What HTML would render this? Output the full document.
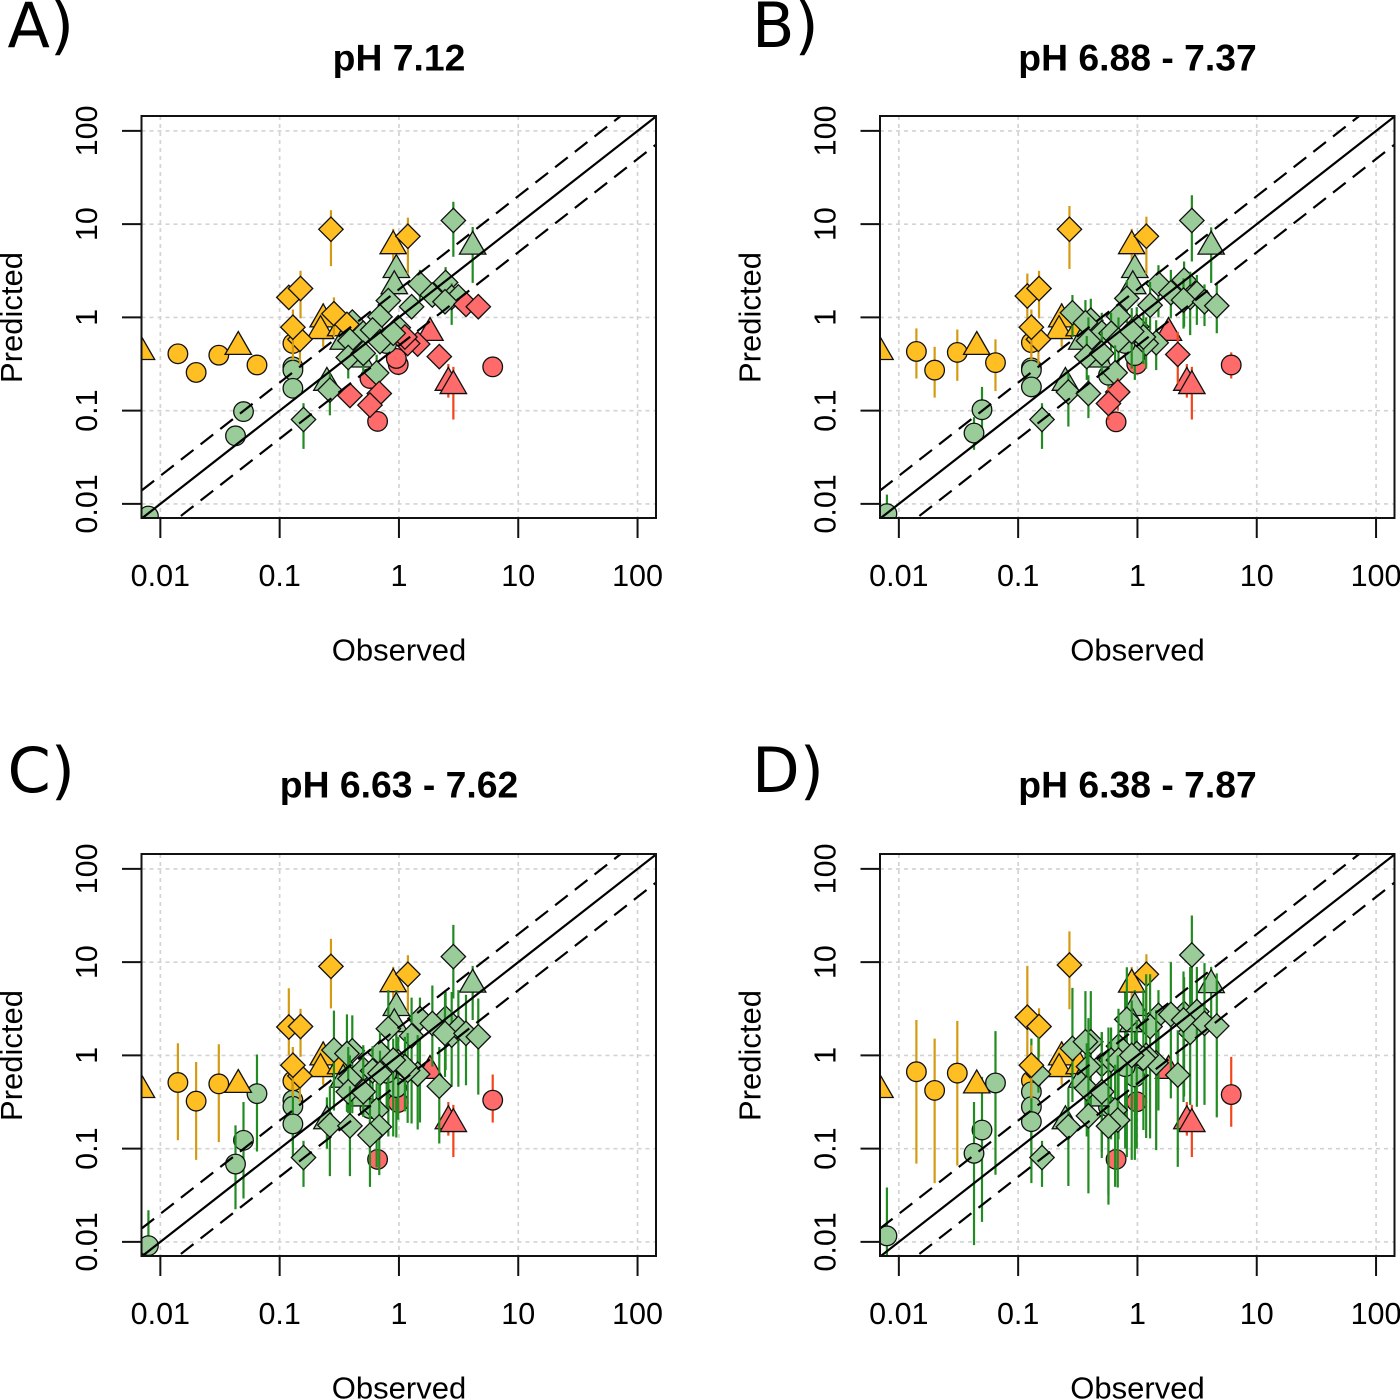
<!DOCTYPE html>
<html lang="en">
<head>
<meta charset="utf-8">
<title>Observed vs predicted at four pH ranges</title>
<style>
  html, body { margin: 0; padding: 0; background: #fff; width: 1400px; height: 1399px; overflow: hidden; }
  svg { display: block; }
  text { fill: #000; font-family: "Liberation Sans", sans-serif; }
  .tick { font-size: 30.5px; text-anchor: middle; }
  .axis-title { font-size: 31px; text-anchor: middle; }
  .plot-title { font-size: 37.3px; font-weight: bold; text-anchor: middle; }
  .panel-letter { font-size: 62px; font-family: "DejaVu Sans", sans-serif; }
</style>
</head>
<body>
<svg id="figure" xmlns="http://www.w3.org/2000/svg" width="1400" height="1399" viewBox="0 0 1400 1399"></svg>
<script>
const tickValues = [0.01, 0.1, 1, 10, 100];
const tickLabels = ["0.01", "0.1", "1", "10", "100"];
const panelLetters = ["A)", "B)", "C)", "D)"];
const panelTitles = ["pH 7.12", "pH 6.88 - 7.37", "pH 6.63 - 7.62", "pH 6.38 - 7.87"];
const markerCounts = [17, 15, 39];

const logObserved = [
  -1.853,-1.70,-1.51,-1.19,-.889,-.889,-.889,-.889,-1.303,-1.37,-2.10,.786,-.006,-.022,-.179,-.243,-.103,
  -2.158,-1.347,-.635,-.657,-.489,-.048,.618,-.022,-.039,-.604,-.467,-.327,.26,.414,.456,
  -.57,.075,-.923,-.825,-.83,-.889,-.545,-.391,-.436,.456,.176,.391,.28,.442,.498,.386,.562,.665,-.089,.106,-.159,-.006,-.299,-.221,-.159,-.411,-.425,-.299,-.187,-.579,-.80,-.411,-.165,-.243,.338,.157,.073,.05,-.048
];

const classA = ("ooooogggggg"+"rrrrrg"+"oooooogggggg"+"rrr"+"ooooooo"+"g"+"o"+"ggggggg"+"rr"+"ggggggggggggg"+"rrrrrrr"+"g").split("");
const classB = ("ooooogggggg"+"rrgrgg"+"oooooogggggg"+"rrr"+"oooooo"+"gggggggggggggggggggggggggg"+"rrr"+"gggg").split("");
const classC = ("ooogogggggg"+"rrgrgg"+"oooooogggggg"+"rrr"+"oooooo"+"ggggggggggggggggggggggggggggggggg").split("");
const classD = ("ooogogggggg"+"rrgrgg"+"oooooogggggg"+"rrr"+"oooo"+"g"+"o"+"ggggggggggggggggggggggggggggggggg").split("");

const predictedA = [
  -.39,-.59,-.405,-.51,-.28,-.53,-.565,-.76,-1.01,-1.27,-2.13,-.53,-.505,-.44,-1.115,-.655,-.28,
  -.37,-.315,-.02,-.145,-.115,.765,.76,.51,.336,-.70,-.26,-.45,-.165,-.70,-.735,
  .945,.87,.215,.31,-.235,-.105,.04,-.05,-.075,1.04,.36,.375,.24,.215,.22,.168,.14,.115,.18,.115,.007,-.11,-.17,-.135,-.26,-.25,-.43,-.385,-.595,-.78,-1.095,-.837,-.816,-.94,-.42,-.286,-.28,-.21,-.17
];
const lowerA = [
  null,null,null,null,null,null,null,null,null,null,null,null,null,null,null,null,null,
  null,null,-.315,null,null,.6,.37,.25,null,null,null,null,null,-.86,-1.095,
  .55,.47,null,-.01,-.5,-.46,-.21,null,null,.65,.185,.15,null,-.08,
  null,null,null,null,null,null,null,null,null,null,null,null,
  -.655,-.6,-.887,-1.05,-1.41,null,null,null,null,null,null,null,null
];
const upperA = [
  null,null,null,null,null,null,null,null,null,null,null,null,null,null,null,null,null,
  null,null,.15,null,null,.95,.97,.65,null,null,null,null,null,-.5,-.53,
  1.15,1.07,null,.5,-.1,.085,.215,null,null,1.24,.51,.54,null,.365,
  null,null,null,null,null,null,null,null,null,null,null,null,
  -.3,-.3,-.4,-.6,-.92,null,null,null,null,null,null,null,null
];

const predictedB = [
  -.365,-.565,-.375,-.485,-.27,-.54,-.565,-.745,-.99,-1.24,-2.105,-.51,-.50,-.41,-1.12,-.62,-.28,
  -.37,-.315,-.02,-.145,-.115,.765,.76,.51,.336,-.70,-.26,-.45,-.165,-.70,-.735,
  .945,.87,.23,.31,-.235,-.105,.05,-.03,-.057,1.04,.36,.40,.265,.215,.258,.186,.168,.125,.204,.13,.014,-.10,-.165,-.17,-.243,-.25,-.42,-.385,-.594,-.80,-1.095,-.816,-.80,-.923,-.397,-.272,-.28,-.21,-.15
];
const lowerB = [
  -.655,-.86,-.68,-.79,-.49,null,null,null,-1.28,-1.42,-2.4,-.655,null,-.67,null,-.85,null,
  null,null,-.315,null,null,.6,.37,.25,null,null,null,null,null,-.86,-1.095,
  .52,.465,-.03,-.01,-.5,-.46,-.21,-.3,-.35,.6,0,-.1,-.01,-.19,-.08,-.12,-.093,-.17,-.06,-.14,-.07,-.315,-.35,-.35,-.5,-.5,-.67,-.62,-.92,-1.17,-1.41,-1.08,-1.0,-1.1,-.71,-.565,-.55,-.5,-.55
];
const upperB = [
  -.118,-.315,-.13,-.235,-.01,null,null,null,-.745,-1.07,-1.9,-.375,null,-.21,null,-.35,null,
  null,null,.15,null,null,.95,.966,.65,null,null,null,null,null,-.5,-.53,
  1.195,1.08,.47,.5,-.1,.085,.24,.2,.186,1.31,.56,.6,.51,.49,.455,.42,.354,.365,.4,.38,.15,.11,.05,.05,0,0,-.2,-.15,-.3,-.6,-.92,-.62,-.65,-.75,-.154,-.03,0,.05,.1
];

const predictedC = [
  -.29,-.49,-.305,-.41,-.275,-.48,-.545,-.735,-.91,-1.165,-2.04,-.48,-.505,-.345,-1.115,-.57,-.19,
  -.37,-.315,-.02,-.145,-.115,.765,.76,.51,.336,-.705,-.26,-.46,-.165,-.705,-.735,
  .955,.87,.305,.31,-.22,-.105,.057,.05,.02,1.06,.394,.40,.343,.218,.29,.236,.236,.2,.286,.21,.03,-.068,-.147,-.165,-.193,-.25,-.39,-.39,-.587,-.748,-1.095,-.755,-.766,-.855,-.33,-.2,-.16,-.12,-.05
];
const lowerC = [
  -.91,-1.12,-.93,-1.03,-.55,-.85,-.95,-1.09,-1.535,-1.65,-2.4,-.72,null,-.88,null,-1.05,-.6,
  null,null,-.315,null,null,.6,.38,.2,null,-1,null,null,null,-.86,-1.09,
  .505,.47,0,-.015,-.5,-.445,-.59,-.62,-.605,.61,-.72,-.157,-.12,-.336,-.336,-.23,-.32,-.42,-.87,-.73,-.73,-.69,-.55,-.6,-.7,-.6,-.62,-.66,-1.2,-1.295,-1.41,-1.295,-1.284,-1.41,-.945,-.794,-.723,-.6,-.87
];
const upperC = [
  .13,-.07,.12,.01,.09,-.2,-.25,-.4,-.5,-.75,-1.66,-.205,null,.235,null,-.15,.1,
  null,null,.15,null,null,.95,.96,.7,null,-.45,null,null,null,-.5,-.53,
  1.25,1.075,.72,.5,-.1,.09,.48,.43,.44,1.40,.62,.68,.75,.68,.70,.66,.65,.61,.70,.62,.25,.2,.11,.1,.05,0,.09,.09,-.3,-.33,-.916,-.33,-.3,-.48,.09,.218,.24,.2,.18
];

const predictedD = [
  -.175,-.375,-.19,-.295,-.27,-.39,-.55,-.71,-.80,-1.05,-1.935,-.42,-.497,-.23,-1.115,-.55,-.12,
  -.37,-.32,-.02,-.145,-.115,.76,.755,.51,.336,-.705,-.26,-.46,-.165,-.705,-.735,
  .97,.87,.41,.31,-.2,-.105,.075,.147,.147,1.077,.43,.45,.44,.247,.47,.38,.343,.315,.386,.31,.1,.02,-.097,-.05,-.05,-.12,-.354,-.39,-.587,-.766,-1.095,-.648,-.694,-.758,-.21,-.08,0,-.03,0
];
const lowerD = [
  -1.16,-1.37,-1.18,-1.28,-.55,-.9,-1.0,-1.37,-1.785,-2.035,-2.45,-.765,null,-1.12,null,-1.5,-1.0,
  null,null,-.315,null,null,.55,.38,.1,null,null,null,null,null,-.86,-1.09,
  .495,.47,-.19,-.015,-.4,-.46,-.5,-.72,-.765,.415,-.59,-.44,-.46,-.53,-.55,-.5,-.53,-.665,-1.09,-.89,-.8,-1.0,-1.1,-.9,-.9,-.7,-.87,-1.03,-1.41,-1.4,-1.41,-1.48,-1.417,-1.6,-1.195,-1.016,-.885,-.8,-1.12
];
const upperD = [
  .38,.18,.37,.26,.11,0,-.1,.18,-.23,-.5,-1.417,-.015,null,.3,null,.3,.7,
  null,null,.15,null,null,.95,.95,.7,null,null,null,null,null,-.5,-.53,
  1.33,1.085,.96,.505,.2,.11,.725,.69,.69,1.5,.70,.84,1.0,.95,.95,.9,.99,.88,.945,.87,.5,.38,.25,.3,.25,.4,.13,.25,-.1,-.35,-.916,.13,0,.13,.27,.486,.87,.7,.59
];

const panelPredicted = [predictedA, predictedB, predictedC, predictedD];
const panelLower = [lowerA, lowerB, lowerC, lowerD];
const panelUpper = [upperA, upperB, upperC, upperD];
const panelClass = [classA, classB, classC, classD];
const bandFactor = 2;

const NS = "http://www.w3.org/2000/svg";
const root = document.getElementById("figure");
const fills = { o: "#FFBE22", g: "#99CC99", r: "#FF6B6B" };
const barColors = { o: "#D49B12", g: "#228B22", r: "#F2451C" };
const classNames = { o: "orange", g: "green", r: "red" };
const PLOT_W = 514.5, PLOT_H = 402, X_PER_DEC = 119.3, Y_PER_DEC = 93.25, X_MIN = -2.158, Y_MAX = 2.16;

function svgEl(tag, attrs, parent) {
  const el = document.createElementNS(NS, tag);
  for (const k in attrs) el.setAttribute(k, attrs[k]);
  parent.appendChild(el);
  return el;
}
function shapeFor(i) {
  if (i < markerCounts[0]) return "circle";
  if (i < markerCounts[0] + markerCounts[1]) return "triangle";
  return "diamond";
}

panelTitles.forEach(function (title, p) {
  const col = p % 2, row = Math.floor(p / 2);
  const left = col ? 880 : 141.5;
  const top = row ? 854 : 116;
  const dx = left - 141.5, dy = top - 116;
  const xLog = function (v) { return left + (v - X_MIN) * X_PER_DEC; };
  const yLog = function (v) { return top + (Y_MAX - v) * Y_PER_DEC; };

  const panel = svgEl("g", {}, root);
  
  

  const clip = svgEl("clipPath", { id: "clip" + p }, panel);
  svgEl("rect", { x: left, y: top, width: PLOT_W, height: PLOT_H }, clip);

  const letter = svgEl("text", { x: 7.5 + (col ? 744.5 : 0), y: row ? 792 : 47, "class": "panel-letter" }, panel);
  letter.textContent = panelLetters[p];
  
  

  const ttl = svgEl("text", { x: 399 + dx, y: row ? 797.5 : 70.5, "class": "plot-title" }, panel);
  ttl.textContent = title;
  
  

  const grid = svgEl("g", { stroke: "#d3d3d3", "stroke-width": 1.7, "stroke-dasharray": "4 4", fill: "none" }, panel);
  
  
  tickValues.forEach(function (t) {
    const v = Math.log10(t);
    svgEl("line", { x1: xLog(v), x2: xLog(v), y1: top, y2: top + PLOT_H }, grid);
    svgEl("line", { x1: left, x2: left + PLOT_W, y1: yLog(v), y2: yLog(v) }, grid);
  });

  const marks = svgEl("g", { "clip-path": "url(#clip" + p + ")" }, panel);
  
  

  logObserved.forEach(function (obs, i) {
    const pred = panelPredicted[p][i], lo = panelLower[p][i], hi = panelUpper[p][i], cls = panelClass[p][i];
    const cx = xLog(obs), cy = yLog(pred);
    if (lo !== null && hi !== null) {
      const bar = svgEl("line", { x1: cx, x2: cx, y1: yLog(hi), y2: yLog(lo), stroke: barColors[cls], "stroke-width": 2.2 }, marks);
      
      
    }
    const shape = shapeFor(i);
    const style = { fill: fills[cls], stroke: "#111", "stroke-width": 1.3, "stroke-linejoin": "miter" };
    let m;
    if (shape === "circle") {
      style.cx = cx; style.cy = cy; style.r = 9.8;
      m = svgEl("circle", style, marks);
    } else if (shape === "triangle") {
      style.points = [cx, cy - 15.3, cx + 13.2, cy + 7.6, cx - 13.2, cy + 7.6].join(",");
      m = svgEl("polygon", style, marks);
    } else {
      style.points = [cx, cy - 12.2, cx + 12.2, cy, cx, cy + 12.2, cx - 12.2, cy].join(",");
      m = svgEl("polygon", style, marks);
    }
    
    
  });

  const refLines = svgEl("g", { "clip-path": "url(#clip" + p + ")", stroke: "#000", fill: "none", "stroke-width": 2.2 }, panel);
  
  
  const xEnd = X_MIN + PLOT_W / X_PER_DEC;
  const bandOffsets = [0, Math.log10(bandFactor), -Math.log10(bandFactor)];
  bandOffsets.forEach(function (off) {
    const ln = svgEl("line", { x1: xLog(X_MIN), y1: yLog(X_MIN + off), x2: xLog(xEnd), y2: yLog(xEnd + off) }, refLines);
    if (off !== 0) ln.setAttribute("stroke-dasharray", "16 9");
    
    
  });

  const frame = svgEl("rect", { x: left, y: top, width: PLOT_W, height: PLOT_H, fill: "none", stroke: "#111", "stroke-width": 2 }, panel);
  
  

  const xAxis = svgEl("g", {}, panel);
  
  
  const yAxis = svgEl("g", {}, panel);
  
  

  tickValues.forEach(function (t, k) {
    const v = Math.log10(t);
    const xp = xLog(v), yp = yLog(v);
    svgEl("line", { x1: xp, x2: xp, y1: top + PLOT_H, y2: top + PLOT_H + 20, stroke: "#111", "stroke-width": 2 }, xAxis);
    svgEl("line", { x1: left - 19.5, x2: left, y1: yp, y2: yp, stroke: "#111", "stroke-width": 2 }, yAxis);
    const xl = svgEl("text", { x: xp, y: 586 + dy, "class": "tick" }, xAxis);
    xl.textContent = tickLabels[k];
    
    
    const yl = svgEl("text", { x: 0, y: 0, "class": "tick", transform: "translate(" + (97 + dx) + "," + yp + ") rotate(-90)" }, yAxis);
    yl.textContent = tickLabels[k];
    
    
  });

  const xt = svgEl("text", { x: 399 + dx, y: 660.5 + dy, "class": "axis-title" }, panel);
  xt.textContent = "Observed";
  
  

  const yt = svgEl("text", { x: 0, y: 0, "class": "axis-title", transform: "translate(" + (22 + dx) + "," + (317.5 + dy) + ") rotate(-90)" }, panel);
  yt.textContent = "Predicted";
  
  
});
</script>
</body>
</html>
